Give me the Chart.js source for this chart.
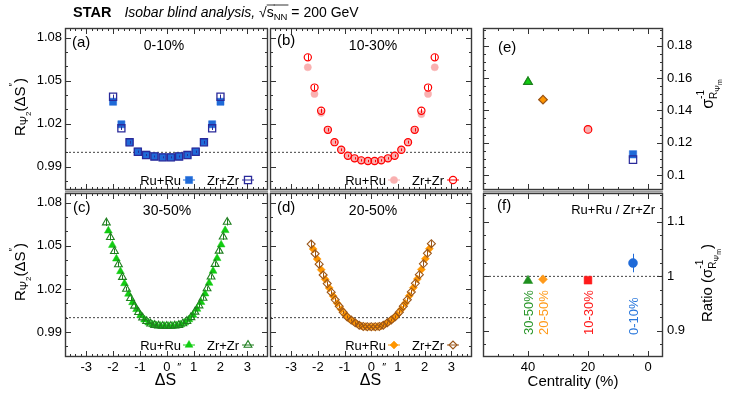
<!DOCTYPE html>
<html>
<head>
<meta charset="utf-8">
<script src="https://cdn.jsdelivr.net/npm/chart.js@4.4.1/dist/chart.umd.min.js"></script>
<style>
  html, body { margin: 0; padding: 0; background: #fff; }
  #wrap { position: relative; width: 747px; height: 403px; }
  #wrap canvas { position: absolute; left: 0; top: 0; width: 747px; height: 403px; }
</style>
</head>
<body>
<div id="wrap">
  <canvas id="pa" width="747" height="403"></canvas>
  <canvas id="pb" width="747" height="403"></canvas>
  <canvas id="pe" width="747" height="403"></canvas>
  <canvas id="pc" width="747" height="403"></canvas>
  <canvas id="pd" width="747" height="403"></canvas>
  <canvas id="pf" width="747" height="403"></canvas>
</div>
<script>
// ---- data ----

// (a) 0-10%
const xA = [-2.0, -1.69, -1.385, -1.077, -0.77, -0.46, -0.154, 0.154, 0.46, 0.77, 1.077, 1.385, 1.69, 2.0];
const ruA = [1.0353, 1.0196, 1.0071, 1.0005, 0.9982, 0.9972, 0.9966, 0.9966, 0.9972, 0.9982, 1.0005, 1.0071, 1.0196, 1.0353];
const zrA = [1.0388, 1.0168, 1.0070, 1.0004, 0.9981, 0.9971, 0.9965, 0.9965, 0.9971, 0.9981, 1.0004, 1.0070, 1.0168, 1.0388];
const zrAErr = [0.0015, 0.0012, 0.001, 0.0008, 0.0007, 0.0007, 0.0007, 0.0007, 0.0007, 0.0007, 0.0008, 0.001, 0.0012, 0.0015];

// (b) 10-30%
const xB = [-2.375, -2.125, -1.875, -1.625, -1.375, -1.125, -0.875, -0.625, -0.375, -0.125,
            0.125, 0.375, 0.625, 0.875, 1.125, 1.375, 1.625, 1.875, 2.125, 2.375];
const ruB = [1.0594, 1.0408, 1.0276, 1.0155, 1.0070, 1.0017, 0.9976, 0.9957, 0.9944, 0.9939,
             0.9939, 0.9944, 0.9957, 0.9976, 1.0017, 1.0070, 1.0155, 1.0267, 1.0408, 1.0594];
const zrB = [1.0663, 1.0452, 1.0290, 1.0157, 1.0071, 1.0018, 0.9976, 0.9958, 0.9944, 0.9939,
             0.9939, 0.9944, 0.9958, 0.9976, 1.0018, 1.0071, 1.0157, 1.0290, 1.0452, 1.0663];
const zrBErr = [0.0022, 0.0018, 0.0015, 0.0012, 0.001, 0.0009, 0.0008, 0.0008, 0.0008, 0.0008,
                0.0008, 0.0008, 0.0008, 0.0008, 0.0009, 0.001, 0.0012, 0.0015, 0.0018, 0.0022];

// (c) 30-50% and (d) 20-50% share the finer binning
const xZr = [-2.25, -2.1, -1.95, -1.8, -1.65, -1.5, -1.35, -1.2, -1.05, -0.9, -0.75, -0.6, -0.45, -0.3, -0.15, 0,
             0.15, 0.3, 0.45, 0.6, 0.75, 0.9, 1.05, 1.2, 1.35, 1.5, 1.65, 1.8, 1.95, 2.1, 2.25];
const xRu = [-2.175, -2.025, -1.875, -1.725, -1.575, -1.425, -1.275, -1.125, -0.975, -0.825, -0.675, -0.525, -0.375, -0.225, -0.075,
             0.075, 0.225, 0.375, 0.525, 0.675, 0.825, 0.975, 1.125, 1.275, 1.425, 1.575, 1.725, 1.875, 2.025, 2.175];
const zrC = [1.0662, 1.0560, 1.0462, 1.0370, 1.0282, 1.0200, 1.0135, 1.0082, 1.0038, 1.0000, 0.9975, 0.9958, 0.9948, 0.9944, 0.9942, 0.9942,
             0.9942, 0.9944, 0.9948, 0.9959, 0.9976, 1.0002, 1.0040, 1.0084, 1.0137, 1.0203, 1.0285, 1.0373, 1.0465, 1.0563, 1.0666];
const ruC = [1.0605, 1.0505, 1.0410, 1.0322, 1.0238, 1.0165, 1.0106, 1.0058, 1.0017, 0.9986, 0.9965, 0.9952, 0.9945, 0.9942, 0.9941,
             0.9941, 0.9942, 0.9945, 0.9952, 0.9966, 0.9987, 1.0018, 1.0060, 1.0108, 1.0167, 1.0241, 1.0325, 1.0413, 1.0508, 1.0608];
const zrD = [1.0512, 1.0445, 1.0372, 1.0297, 1.0237, 1.0177, 1.0124, 1.0079, 1.0037, 1.0005, 0.9983, 0.9964, 0.9947, 0.9939, 0.9937, 0.9937,
             0.9937, 0.9939, 0.9947, 0.9964, 0.9984, 1.0006, 1.0038, 1.0080, 1.0125, 1.0179, 1.0239, 1.0299, 1.0375, 1.0448, 1.0515];
const ruD = [1.0478, 1.0408, 1.0334, 1.0267, 1.0207, 1.0150, 1.0100, 1.0057, 1.0020, 0.9993, 0.9973, 0.9955, 0.9942, 0.9938, 0.9937,
             0.9937, 0.9938, 0.9942, 0.9955, 0.9974, 0.9994, 1.0021, 1.0058, 1.0101, 1.0152, 1.0209, 1.0269, 1.0336, 1.0410, 1.0480];
const zrFineErr = [0.0024, 0.0022, 0.002, 0.0018, 0.0016, 0.0014, 0.0013, 0.0012, 0.0011, 0.001, 0.0009, 0.0009, 0.0008, 0.0008, 0.0008, 0.0008,
                   0.0008, 0.0008, 0.0008, 0.0009, 0.0009, 0.001, 0.0011, 0.0012, 0.0013, 0.0014, 0.0016, 0.0018, 0.002, 0.0022, 0.0024];

// (e) sigma^-1 vs centrality, (f) ratio
const centLabels = ['30-50%', '20-50%', '10-30%', '0-10%'];
const centX = [40, 35, 20, 5];
const sigRu = [0.1578, 0.1466, 0.1284, 0.1128];
const sigZr = [0.1576, 0.1466, 0.1282, 0.1095];
const ratio = [0.992, 0.9945, 0.993, 1.0245];
const ratioErr = [0.003, 0.002, 0.003, 0.017];

// tick labels
const xTicksDS = [-3, -2, -1, 0, 1, 2, 3];
const yTicksR = [0.99, 1.02, 1.05, 1.08];
const yTicksSig = [0.1, 0.12, 0.14, 0.16, 0.18];
const yTicksRatio = [0.9, 1, 1.1];
const xTicksCent = [0, 20, 40];

// ---- styling ----
const FONT = '"Liberation Sans", Arial, Helvetica, sans-serif';
Chart.defaults.font.family = FONT;
const C = {
  ruA: '#1f6ad8', zrA: '#2a2a9a',
  ruB: '#f9b0b0', zrB: '#ff0000',
  ruC: '#11cc11', zrC: '#1f7f1f',
  ruD: '#ff9600', zrD: '#9a5518'
};
const NONE = 'rgba(0,0,0,0)';

const pts = (xs, ys) => ys.map((y, i) => ({ x: xs[i], y }));
const steps = (a, b, s) => { const r = []; for (let v = a; v <= b + 1e-9; v += s) r.push(+v.toFixed(4)); return r; };

function refLine(x0, x1) {
  return { data: [{ x: x0, y: 1 }, { x: x1, y: 1 }], showLine: true, borderColor: '#444', borderWidth: 1,
           borderDash: [2, 2], pointRadius: 0, order: 5 };
}

function richText(ctx, x, y, segs, align, rot, color) {
  ctx.save();
  ctx.translate(x, y);
  if (rot) ctx.rotate(rot);
  const f = s => (s.i ? 'italic ' : '') + (s.b ? 'bold ' : '') + (s.s || 13) + 'px ' + FONT;
  let w = 0;
  segs.forEach(s => { ctx.font = f(s); if (s.adv !== false) w += ctx.measureText(s.t).width + (s.dx || 0); });
  let cx = align === 'center' ? -w / 2 : align === 'right' ? -w : 0;
  ctx.textAlign = 'left';
  ctx.textBaseline = 'alphabetic';
  segs.forEach(s => {
    ctx.font = f(s);
    ctx.fillStyle = s.c || color || '#000';
    const mw = ctx.measureText(s.t).width;
    ctx.fillText(s.t, cx + (s.dx || 0), s.dy || 0);
    if (s.over != null) {
      ctx.strokeStyle = ctx.fillStyle; ctx.lineWidth = 0.8;
      ctx.beginPath(); ctx.moveTo(cx + (s.dx || 0), s.over); ctx.lineTo(cx + (s.dx || 0) + mw + 1, s.over); ctx.stroke();
    }
    if (s.adv !== false) cx += mw + (s.dx || 0);
  });
  ctx.restore();
}

function marker(ctx, m) {
  ctx.save();
  ctx.strokeStyle = m.stroke; ctx.lineWidth = 1;
  ctx.beginPath(); ctx.moveTo(m.x - 6, m.y); ctx.lineTo(m.x + 6, m.y); ctx.stroke();
  ctx.fillStyle = m.fill; ctx.lineWidth = m.bw;
  if (Chart.helpers && Chart.helpers.drawPoint) {
    Chart.helpers.drawPoint(ctx, { pointStyle: m.style, radius: m.r, borderWidth: m.bw, rotation: 0 }, m.x, m.y);
  } else {
    ctx.beginPath(); ctx.arc(m.x, m.y, m.r, 0, Math.PI * 2); ctx.fill(); ctx.stroke();
  }
  ctx.restore();
}

function decor(o) {
  return {
    id: 'decor',
    afterDatasetsDraw(chart) {
      const ctx = chart.ctx, ys = chart.scales.y;
      ctx.save();
      ctx.lineWidth = 1;
      chart.data.datasets.forEach((ds, i) => {
        if (!ds.errors) return;
        chart.getDatasetMeta(i).data.forEach((el, j) => {
          const e = ds.errors[j], v = ds.data[j].y;
          ctx.strokeStyle = Array.isArray(ds.errColor) ? ds.errColor[j] : ds.errColor;
          const x = Math.round(el.x) + 0.5;
          ctx.beginPath();
          ctx.moveTo(x, ys.getPixelForValue(v - e));
          ctx.lineTo(x, ys.getPixelForValue(v + e));
          ctx.stroke();
        });
      });
      ctx.restore();
    },
    afterDraw(chart) {
      const ctx = chart.ctx, a = chart.chartArea, xs = chart.scales.x, ys = chart.scales.y;
      ctx.save();
      // frame with inward ticks on all sides
      ctx.strokeStyle = '#333';
      ctx.lineWidth = 1;
      ctx.beginPath();
      const tx = (vals, len) => vals.forEach(v => {
        const p = Math.round(xs.getPixelForValue(v)) + 0.5;
        if (p < a.left + 1 || p > a.right - 1) return;
        ctx.moveTo(p, a.bottom); ctx.lineTo(p, a.bottom - len);
        ctx.moveTo(p, a.top); ctx.lineTo(p, a.top + len);
      });
      const ty = (vals, len) => vals.forEach(v => {
        const p = Math.round(ys.getPixelForValue(v)) + 0.5;
        if (p < a.top + 1 || p > a.bottom - 1) return;
        ctx.moveTo(a.left, p); ctx.lineTo(a.left + len, p);
        ctx.moveTo(a.right, p); ctx.lineTo(a.right - len, p);
      });
      tx(o.xMaj, 6); tx(o.xMin, 3);
      ty(o.yMaj, 6); ty(o.yMin, 3);
      ctx.stroke();
      ctx.lineWidth = 1.4;
      ctx.strokeStyle = '#3a3a3a';
      ctx.strokeRect(Math.round(a.left) + 0.5, Math.round(a.top) + 0.5, Math.round(a.width) - 1, Math.round(a.height) - 1);
      if (o.padLine) {
        ctx.strokeStyle = '#9a9a9a'; ctx.lineWidth = 2;
        ctx.beginPath(); ctx.moveTo(a.left, a.bottom + 1.5); ctx.lineTo(a.right, a.bottom + 1.5); ctx.stroke();
      }
      ctx.restore();
      (o.texts || []).forEach(t => {
        const x = t.dataX != null ? xs.getPixelForValue(t.dataX) + t.x : t.x;
        richText(ctx, x, t.y, t.segs, t.align, t.rot, t.color);
      });
      (o.markers || []).forEach(m => marker(ctx, m));
    }
  };
}

function panel(id, o) {
  const W = 747, H = 403, WY = 36, HX = 24;
  const [l, t, r, b] = o.area;
  const pad = o.yRight
    ? { left: l, right: W - r - WY, top: t, bottom: H - b - HX }
    : { left: l - WY, right: W - r, top: t, bottom: H - b - HX };
  const tickFont = { family: FONT, size: 13 };
  return new Chart(document.getElementById(id), {
    type: 'scatter',
    data: { datasets: o.datasets },
    options: {
      responsive: false, animation: false, events: [],
      layout: { padding: pad },
      plugins: { legend: { display: false }, tooltip: { enabled: false } },
      scales: {
        x: {
          type: 'linear', min: o.x[0], max: o.x[1], reverse: !!o.xRev,
          grid: { display: false, drawTicks: false }, border: { display: false },
          afterFit: s => { s.height = HX; },
          afterBuildTicks: s => { s.ticks = o.xMaj.map(v => ({ value: v })); },
          ticks: { display: !!o.xLabels, padding: 3, color: '#000', font: tickFont, autoSkip: false, maxRotation: 0,
                   callback: v => String(v) }
        },
        y: {
          type: 'linear', min: o.y[0], max: o.y[1], position: o.yRight ? 'right' : 'left',
          grid: { display: false, drawTicks: false }, border: { display: false },
          afterFit: s => { s.width = WY; },
          afterBuildTicks: s => { s.ticks = o.yMaj.map(v => ({ value: v })); },
          ticks: { display: !!o.yLabels, padding: o.yRight ? 4 : 3, color: '#000', font: tickFont, autoSkip: false,
                   callback: v => String(v) }
        }
      }
    },
    plugins: [decor(o)]
  });
}

// shared pieces
const xRange = [-3.79, 3.77];
const xMinDS = steps(-3.6, 3.6, 0.2);
const yMinR = [0.98, 1.0, 1.01, 1.03, 1.04, 1.06, 1.07];
const rTitle = [{ t: 'R', s: 15 }, { t: 'Ψ', s: 11, dy: 3 }, { t: '2', s: 8, dy: 6 }, { t: '(ΔS', s: 15 },
                { t: '″', s: 10, dy: -8 }, { t: ')', s: 15 }];
const dsTitle = [{ t: 'ΔS', s: 16 }, { t: '″', s: 11, dy: -14, dx: 1 }];

function legendFor(l, y, ruStyle, zrStyle) {
  return {
    texts: [
      { x: l + 116, y: y + 5, segs: [{ t: 'Ru+Ru', s: 13 }], align: 'right' },
      { x: l + 142, y: y + 5, segs: [{ t: 'Zr+Zr', s: 13 }], align: 'left' }
    ],
    markers: [
      Object.assign({ x: l + 124, y: y }, ruStyle),
      Object.assign({ x: l + 183, y: y }, zrStyle)
    ]
  };
}

function cfgR(area, ru, zr, ruSt, zrSt, row2, extra) {
  const lg = legendFor(area[0], row2 ? 345 : 180, ruSt, zrSt);
  return Object.assign({
    area, x: xRange, y: row2 ? [0.9726, 1.0868] : [0.9737, 1.0868],
    xMaj: xTicksDS, xMin: xMinDS, yMaj: yTicksR, yMin: yMinR,
    datasets: [zr, ru, refLine(xRange[0], xRange[1])],
    texts: lg.texts, markers: lg.markers, padLine: !row2
  }, extra, { texts: lg.texts.concat(extra.texts || []) });
}

// (a)
panel('pa', cfgR([65, 28, 268, 190],
  { data: pts(xA, ruA), pointStyle: 'rect', pointRadius: 5, backgroundColor: C.ruA, borderColor: C.ruA, borderWidth: 0.5, order: 1 },
  { data: pts(xA, zrA), pointStyle: 'rect', pointRadius: 5, backgroundColor: NONE, borderColor: C.zrA, borderWidth: 1.3, order: 0,
    errors: zrAErr, errColor: C.zrA },
  { style: 'rect', r: 5, fill: C.ruA, stroke: C.ruA, bw: 0.5 },
  { style: 'rect', r: 5, fill: NONE, stroke: C.zrA, bw: 1.3 },
  false,
  { yLabels: true, texts: [
      { x: 72, y: 47, segs: [{ t: '(a)', s: 15 }] },
      { x: 164, y: 50, segs: [{ t: '0-10%', s: 14 }], align: 'center' },
      { x: 25, y: 107, segs: rTitle, align: 'center', rot: -Math.PI / 2 },
      { x: 73, y: 17, segs: [{ t: 'STAR', s: 14.5, b: 1 }, { t: 'Isobar blind analysis, ', s: 14, i: 1, dx: 13 },
        { t: '√', s: 14 }, { t: 's', s: 14, over: -12 }, { t: 'NN', s: 9.5, dy: 3, over: -12 }, { t: ' = 200 GeV', s: 14 }] }
  ] }));

// (b)
panel('pb', cfgR([270, 28, 472, 190],
  { data: pts(xB, ruB), pointStyle: 'circle', pointRadius: 3.6, backgroundColor: C.ruB, borderColor: C.ruB, borderWidth: 0.5, order: 1 },
  { data: pts(xB, zrB), pointStyle: 'circle', pointRadius: 3.6, backgroundColor: NONE, borderColor: C.zrB, borderWidth: 1.2, order: 0,
    errors: zrBErr, errColor: C.zrB },
  { style: 'circle', r: 3.6, fill: C.ruB, stroke: C.ruB, bw: 0.5 },
  { style: 'circle', r: 3.6, fill: NONE, stroke: C.zrB, bw: 1.2 },
  false,
  { texts: [
      { x: 277, y: 45, segs: [{ t: '(b)', s: 15 }] },
      { x: 373, y: 50, segs: [{ t: '10-30%', s: 14 }], align: 'center' }
  ] }));

// (c)
panel('pc', cfgR([65, 193, 268, 357],
  { data: pts(xRu, ruC), pointStyle: 'triangle', pointRadius: 4.5, backgroundColor: C.ruC, borderColor: C.ruC, borderWidth: 0.5, order: 1 },
  { data: pts(xZr, zrC), pointStyle: 'triangle', pointRadius: 4.5, backgroundColor: NONE, borderColor: C.zrC, borderWidth: 1.1, order: 0,
    errors: zrFineErr, errColor: C.zrC },
  { style: 'triangle', r: 4.5, fill: C.ruC, stroke: C.ruC, bw: 0.5 },
  { style: 'triangle', r: 4.5, fill: NONE, stroke: C.zrC, bw: 1.1 },
  true,
  { xLabels: true, yLabels: true, texts: [
      { x: 73, y: 212, segs: [{ t: '(c)', s: 15 }] },
      { x: 167, y: 215, segs: [{ t: '30-50%', s: 14 }], align: 'center' },
      { x: 25, y: 272, segs: rTitle, align: 'center', rot: -Math.PI / 2 },
      { x: 168, y: 385, segs: dsTitle, align: 'center' }
  ] }));

// (d)
panel('pd', cfgR([270, 193, 472, 357],
  { data: pts(xRu, ruD), pointStyle: 'rectRot', pointRadius: 4, backgroundColor: C.ruD, borderColor: C.ruD, borderWidth: 0.5, order: 1 },
  { data: pts(xZr, zrD), pointStyle: 'rectRot', pointRadius: 4, backgroundColor: NONE, borderColor: C.zrD, borderWidth: 1.1, order: 0,
    errors: zrFineErr, errColor: C.zrD },
  { style: 'rectRot', r: 4, fill: C.ruD, stroke: C.ruD, bw: 0.5 },
  { style: 'rectRot', r: 4, fill: NONE, stroke: C.zrD, bw: 1.1 },
  true,
  { xLabels: true, texts: [
      { x: 277, y: 212, segs: [{ t: '(d)', s: 15 }] },
      { x: 373, y: 215, segs: [{ t: '20-50%', s: 14 }], align: 'center' },
      { x: 373, y: 385, segs: dsTitle, align: 'center' }
  ] }));

// (e)
const centStyles = ['triangle', 'rectRot', 'circle', 'rect'];
const centRadii = [5, 4.3, 3.8, 5.2];
panel('pe', {
  area: [483, 28, 663, 190], x: [-5, 55], xRev: true, y: [0.0907, 0.191], yRight: true, yLabels: true,
  xMaj: xTicksCent, xMin: steps(5, 50, 5), yMaj: yTicksSig, yMin: steps(0.095, 0.19, 0.005),
  padLine: true,
  datasets: [
    { data: pts(centX, sigZr), pointStyle: centStyles, pointRadius: centRadii, backgroundColor: NONE,
      borderColor: [C.zrC, C.zrD, C.zrB, C.zrA], borderWidth: 1.2, order: 0 },
    { data: pts(centX, sigRu), pointStyle: centStyles, pointRadius: centRadii,
      backgroundColor: [C.ruC, C.ruD, C.ruB, C.ruA], borderColor: [C.ruC, C.ruD, C.ruB, C.ruA], borderWidth: 0.5, order: 1 }
  ],
  texts: [
    { x: 498, y: 52, segs: [{ t: '(e)', s: 15 }] },
    { x: 713, y: 94, align: 'center', rot: -Math.PI / 2,
      segs: [{ t: 'σ', s: 16 }, { t: '-1', s: 10, dy: -9, adv: false }, { t: 'R', s: 10, dy: 4 }, { t: 'Ψ', s: 8, dy: 7 }, { t: 'm', s: 7, dy: 9 }] }
  ]
});

// (f)
const centColors = ['#2a962a', '#ff9a1a', '#ff1a1a', '#2a78dc'];
panel('pf', {
  area: [483, 193, 663, 357], x: [-5, 55], xRev: true, y: [0.852, 1.153], yRight: true, yLabels: true, xLabels: true,
  xMaj: xTicksCent, xMin: steps(5, 50, 5), yMaj: yTicksRatio, yMin: steps(0.875, 1.15, 0.025).filter(v => !yTicksRatio.includes(v)),
  datasets: [
    { data: pts(centX, ratio), pointStyle: ['triangle', 'rectRot', 'rect', 'circle'], pointRadius: [5.5, 4.5, 5.5, 4.5],
      backgroundColor: ['#1f8f1f', '#ff9a1a', '#ff1a1a', '#1f6ad8'], borderColor: ['#1f8f1f', '#ff9a1a', '#ff1a1a', '#1f6ad8'],
      borderWidth: 0.5, order: 0, errors: ratioErr, errColor: ['#1f8f1f', '#ff9a1a', '#ff1a1a', '#1f6ad8'] },
    refLine(-5, 55)
  ],
  texts: [
    { x: 497, y: 210, segs: [{ t: '(f)', s: 15 }] },
    { x: 655, y: 214, segs: [{ t: 'Ru+Ru / Zr+Zr', s: 13 }], align: 'right' },
    { x: 573, y: 386, segs: [{ t: 'Centrality (%)', s: 15 }], align: 'center' },
    { x: 712, y: 283, align: 'center', rot: -Math.PI / 2,
      segs: [{ t: 'Ratio (', s: 15 }, { t: 'σ', s: 15 }, { t: '-1', s: 10, dy: -9, adv: false }, { t: 'R', s: 10, dy: 4 },
             { t: 'Ψ', s: 8, dy: 7 }, { t: 'm', s: 7, dy: 9 }, { t: ')', s: 15 }] }
  ].concat(centLabels.map((lab, i) => ({
    dataX: centX[i], x: 4.5, y: 335, rot: -Math.PI / 2, color: centColors[i], segs: [{ t: lab, s: 13 }]
  })))
});
</script>
</body>
</html>
